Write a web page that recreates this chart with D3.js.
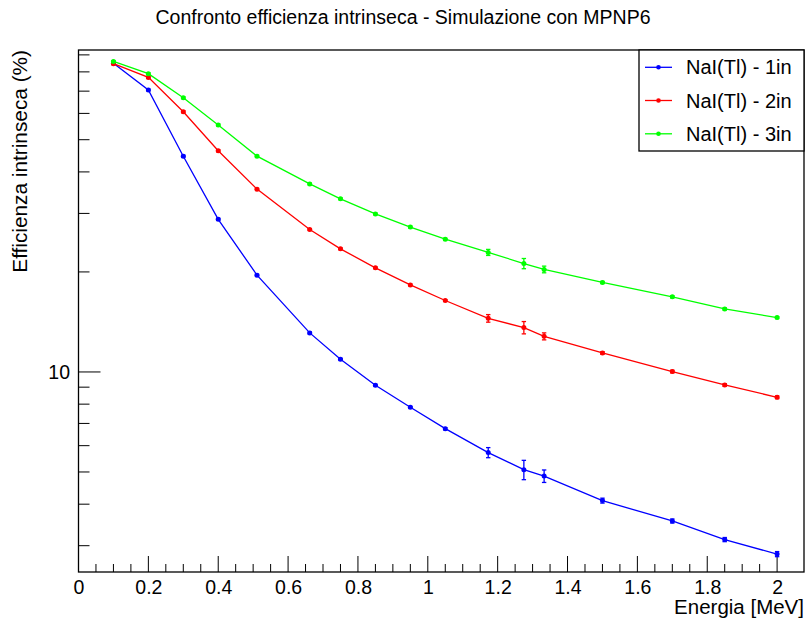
<!DOCTYPE html>
<html>
<head>
<meta charset="utf-8">
<script src="https://cdn.jsdelivr.net/npm/d3@7"></script>
<style>
  body { margin: 0; background: #fff; }
  svg { display: block; font-family: "Liberation Sans", Arial, Helvetica, sans-serif; }
</style>
</head>
<body>
<div id="chart"></div>
<script>
// energies in MeV
const energy = [0.1, 0.2, 0.3, 0.4, 0.511, 0.662, 0.75, 0.85, 0.95, 1.05, 1.173, 1.275, 1.333, 1.5, 1.7, 1.85, 2.0];

// intrinsic efficiency (%) and errors for each crystal
const eff1in = [84.9, 70.6, 44.6, 28.8, 19.56, 13.11, 10.92, 9.12, 7.83, 6.75, 5.72, 5.08, 4.86, 4.10, 3.56, 3.13, 2.83];
const err1in = [0.4, 0.4, 0.3, 0.2, 0.12, 0.08, 0.07, 0.06, 0.05, 0.05, 0.2, 0.34, 0.21, 0.07, 0.05, 0.045, 0.05];
const eff2in = [84.7, 77.0, 60.7, 46.3, 35.5, 26.85, 23.47, 20.57, 18.28, 16.41, 14.5, 13.6, 12.8, 11.41, 10.03, 9.14, 8.39];
const err2in = [0.5, 0.5, 0.4, 0.3, 0.2, 0.15, 0.14, 0.12, 0.11, 0.1, 0.38, 0.58, 0.31, 0.1, 0.09, 0.08, 0.08];
const eff3in = [86.0, 79.0, 66.9, 55.4, 44.6, 36.8, 33.2, 29.9, 27.3, 25.1, 22.9, 21.2, 20.35, 18.6, 16.83, 15.48, 14.58];
const err3in = [0.5, 0.5, 0.4, 0.35, 0.3, 0.2, 0.2, 0.18, 0.16, 0.15, 0.48, 0.75, 0.47, 0.13, 0.12, 0.11, 0.1];

const seriesNames = ["NaI(Tl) - 1in", "NaI(Tl) - 2in", "NaI(Tl) - 3in"];
const seriesColors = ["#0000ff", "#ff0000", "#00ff00"];

const xTicksMajor = [0, 0.2, 0.4, 0.6, 0.8, 1, 1.2, 1.4, 1.6, 1.8, 2];
const yTicksMajor = [10];
const yTicksMinor = [3, 4, 5, 6, 7, 8, 9, 20, 30, 40, 50, 60, 70, 80, 90];

const width = 806, height = 619;
const marginLeft = 78.5, marginRight = 2, marginTop = 50, marginBottom = 47;

const series = [
  { name: seriesNames[0], color: seriesColors[0], y: eff1in, e: err1in },
  { name: seriesNames[1], color: seriesColors[1], y: eff2in, e: err2in },
  { name: seriesNames[2], color: seriesColors[2], y: eff3in, e: err3in }
];

const x = d3.scaleLinear([0, 2.077], [marginLeft, width - marginRight]);
const y = d3.scaleLog([2.5, 93.1], [height - marginBottom, marginTop]);

const svg = d3.create("svg")
  .attr("width", width)
  .attr("height", height)
  .attr("viewBox", [0, 0, width, height]);

svg.append("rect")
  .attr("width", width)
  .attr("height", height)
  .attr("fill", "#fff");

// title
svg.append("text")
  .attr("x", width / 2)
  .attr("y", 24)
  .attr("text-anchor", "middle")
  .attr("font-size", 19.5)
  .text("Confronto efficienza intrinseca - Simulazione con MPNP6");

// x axis ticks (major + minor every 0.05)
const xAxis = d3.axisBottom(x).tickValues(xTicksMajor).tickSize(0).tickFormat(d3.format("~g"));
svg.append("g")
  .attr("transform", `translate(0,${height - marginBottom})`)
  .call(xAxis)
  .call(g => g.select(".domain").remove())
  .call(g => g.selectAll(".tick text")
    .attr("font-size", 19.5)
    .attr("fill", "#000")
    .attr("dy", null)
    .attr("y", 21.5));

const xMinor = d3.range(0, 41).map(i => i * 0.05).filter(v => v <= 2.077);
svg.append("g")
  .attr("stroke", "#000")
  .attr("stroke-width", 1)
  .selectAll("line")
  .data(xMinor)
  .join("line")
  .attr("x1", d => x(d))
  .attr("x2", d => x(d))
  .attr("y1", height - marginBottom)
  .attr("y2", (d, i) => height - marginBottom - (i % 4 === 0 ? 16 : 8));

// y axis ticks (log)
svg.append("g")
  .attr("stroke", "#000")
  .attr("stroke-width", 1)
  .selectAll("line")
  .data(yTicksMajor.concat(yTicksMinor))
  .join("line")
  .attr("x1", marginLeft)
  .attr("x2", d => marginLeft + (yTicksMajor.includes(d) ? 22 : 11))
  .attr("y1", d => y(d))
  .attr("y2", d => y(d));

svg.append("g")
  .selectAll("text")
  .data(yTicksMajor)
  .join("text")
  .attr("x", marginLeft - 8.5)
  .attr("y", d => y(d) + 7)
  .attr("text-anchor", "end")
  .attr("font-size", 19.5)
  .text(d => d);

// frame
svg.append("rect")
  .attr("x", marginLeft)
  .attr("y", marginTop)
  .attr("width", width - marginRight - marginLeft)
  .attr("height", height - marginBottom - marginTop)
  .attr("fill", "none")
  .attr("stroke", "#000")
  .attr("stroke-width", 1.3);

// axis titles
svg.append("text")
  .attr("x", width - marginRight)
  .attr("y", 614)
  .attr("text-anchor", "end")
  .attr("font-size", 20.5)
  .text("Energia [MeV]");

svg.append("text")
  .attr("transform", `translate(27.3,${marginTop}) rotate(-90)`)
  .attr("text-anchor", "end")
  .attr("font-size", 20.8)
  .text("Efficienza intrinseca (%)");

// graphs
const line = d3.line()
  .x((d, i) => x(energy[i]))
  .y(d => y(d));

for (const s of series) {
  const g = svg.append("g");
  g.append("path")
    .attr("d", line(s.y))
    .attr("fill", "none")
    .attr("stroke", s.color)
    .attr("stroke-width", 1.3);

  // error bars with end caps
  const eb = g.append("g")
    .attr("stroke", s.color)
    .attr("stroke-width", 1.3)
    .selectAll("g")
    .data(d3.range(energy.length))
    .join("g");
  eb.append("line")
    .attr("x1", i => x(energy[i]))
    .attr("x2", i => x(energy[i]))
    .attr("y1", i => y(s.y[i] - s.e[i]))
    .attr("y2", i => y(s.y[i] + s.e[i]));
  for (const sign of [-1, 1]) {
    eb.append("line")
      .attr("x1", i => x(energy[i]) - 2.2)
      .attr("x2", i => x(energy[i]) + 2.2)
      .attr("y1", i => y(s.y[i] + sign * s.e[i]))
      .attr("y2", i => y(s.y[i] + sign * s.e[i]));
  }

  g.append("g")
    .attr("fill", s.color)
    .selectAll("circle")
    .data(s.y)
    .join("circle")
    .attr("cx", (d, i) => x(energy[i]))
    .attr("cy", d => y(d))
    .attr("r", 2.5);
}

// legend
const legend = svg.append("g");
legend.append("rect")
  .attr("x", 639)
  .attr("y", marginTop)
  .attr("width", width - marginRight - 639)
  .attr("height", 101)
  .attr("fill", "#fff")
  .attr("stroke", "#000")
  .attr("stroke-width", 1.3);

const rowY = [67.3, 100.5, 133.8];
series.forEach((s, i) => {
  legend.append("line")
    .attr("x1", 645)
    .attr("x2", 672)
    .attr("y1", rowY[i])
    .attr("y2", rowY[i])
    .attr("stroke", s.color)
    .attr("stroke-width", 1.3);
  legend.append("circle")
    .attr("cx", 658.5)
    .attr("cy", rowY[i])
    .attr("r", 2.3)
    .attr("fill", s.color);
  legend.append("text")
    .attr("x", 686)
    .attr("y", rowY[i] + 7)
    .attr("font-size", 20)
    .text(s.name);
});

document.getElementById("chart").appendChild(svg.node());
</script>
</body>
</html>
